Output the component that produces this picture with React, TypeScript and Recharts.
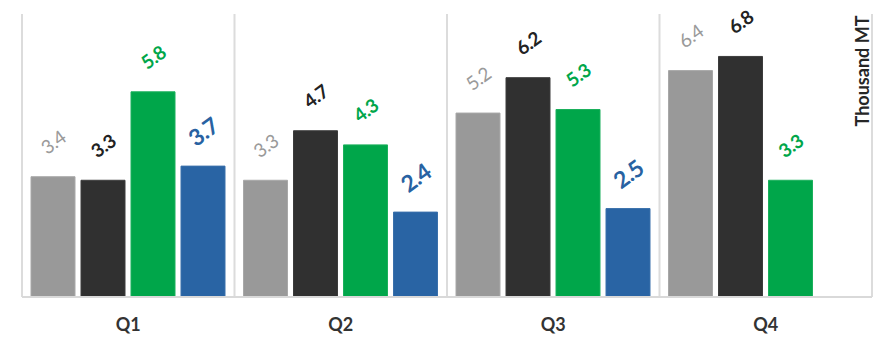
import { BarChart, Bar, XAxis, YAxis, CartesianGrid, LabelList } from "recharts";

const categories = ["Q1", "Q2", "Q3", "Q4"];
const seriesGray = [3.4, 3.3, 5.2, 6.4];
const seriesBlack = [3.3, 4.7, 6.2, 6.8];
const seriesGreen = [5.8, 4.3, 5.3, 3.3];
const seriesBlue: (number | null)[] = [3.7, 2.4, 2.5, null];

const data = categories.map((name, i) => ({
  name,
  gray: seriesGray[i],
  black: seriesBlack[i],
  green: seriesGreen[i],
  blue: seriesBlue[i],
}));

const FONT = "Lato, 'Open Sans', sans-serif";

function makeLabel(color: string, size: number, weight: number) {
  return (props: any) => {
    const { x, y, width, value } = props;
    if (value == null) return null;
    const cx = Number(x) + Number(width) / 2;
    const cy = Number(y) - 35;
    return (
      <text
        x={cx}
        y={cy}
        fill={color}
        fontSize={size}
        fontWeight={weight}
        fontFamily={FONT}
        letterSpacing={-0.5}
        textAnchor="middle"
        dominantBaseline="central"
        transform={`rotate(-36 ${cx} ${cy})`}
      >
        {String(value)}
      </text>
    );
  };
}

const gridX = ({ offset }: any) => {
  const left = offset?.left ?? 22;
  const w = offset?.width ?? 850;
  return categories.map((_, i) => left + (i * w) / categories.length).concat(left + w);
};

export default function App() {
  return (
    <div style={{ position: "absolute", left: 0, top: 0, width: 890, height: 340, fontFamily: FONT }}>
      <BarChart
        width={890}
        height={340}
        data={data}
        margin={{ top: 14, right: 18, bottom: 13, left: 22 }}
        barCategoryGap={9}
        barGap={6}
      >
        <CartesianGrid
          horizontal={false}
          stroke="#dcdcdc"
          strokeWidth={2}
          verticalCoordinatesGenerator={gridX}
        />
        <XAxis
          dataKey="name"
          height={30}
          tickLine={false}
          axisLine={{ stroke: "#d9d9d9", strokeWidth: 2 }}
          tickMargin={15}
          tick={{ fill: "#333333", fontSize: 18, fontWeight: 700, fontFamily: FONT }}
        />
        <YAxis hide domain={[0, 8]} />
        <Bar dataKey="gray" fill="#999999" stroke="#a8a8a8" strokeWidth={1} isAnimationActive={false}>
          <LabelList dataKey="gray" content={makeLabel("#9a9a9a", 19, 400)} />
        </Bar>
        <Bar dataKey="black" fill="#303030" stroke="#3c3c3c" strokeWidth={1} isAnimationActive={false}>
          <LabelList dataKey="black" content={makeLabel("#222222", 19, 700)} />
        </Bar>
        <Bar dataKey="green" fill="#00a64a" stroke="#1bb05c" strokeWidth={1} isAnimationActive={false}>
          <LabelList dataKey="green" content={makeLabel("#00a64a", 19, 700)} />
        </Bar>
        <Bar dataKey="blue" fill="#2964a4" stroke="#3a70ab" strokeWidth={1} isAnimationActive={false}>
          <LabelList dataKey="blue" content={makeLabel("#2862a2", 23, 700)} />
        </Bar>
      </BarChart>
      <div
        style={{
          position: "absolute",
          left: 862,
          top: 71,
          transform: "translate(-50%, -50%) rotate(-90deg)",
          whiteSpace: "nowrap",
          fontSize: 18,
          fontWeight: 700,
          color: "#262626",
          lineHeight: 1,
        }}
      >
        Thousand MT
      </div>
    </div>
  );
}
